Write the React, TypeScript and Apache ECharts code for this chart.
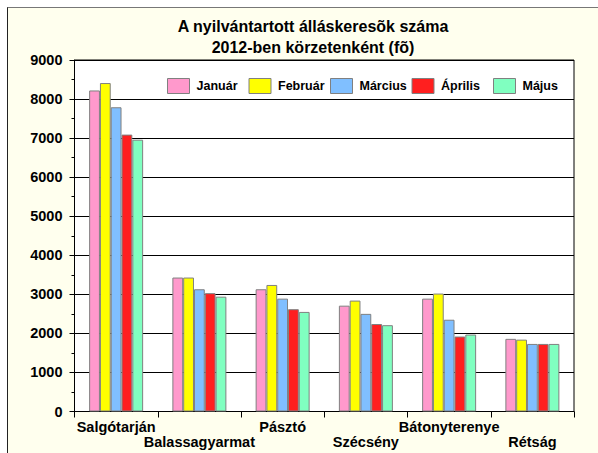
import React, { useEffect, useRef } from "react";
import * as echarts from "echarts";

const categories = ["Salgótarján", "Balassagyarmat", "Pásztó", "Szécsény", "Bátonyterenye", "Rétság"];
const seriesNames = ["Január", "Február", "Március", "Április", "Május"];
const januar = [8220, 3430, 3130, 2710, 2890, 1860];
const februar = [8410, 3430, 3240, 2840, 3020, 1840];
const marcius = [7790, 3130, 2890, 2500, 2350, 1730];
const aprilis = [7090, 3030, 2620, 2240, 1920, 1730];
const majus = [6960, 2940, 2550, 2210, 1970, 1730];
const colors = ["#FF99CC", "#FFFF00", "#80BFFF", "#FF1F1F", "#80FFC0"];
const titleLines = ["A nyilvántartott álláskeresõk száma", "2012-ben körzetenként (fõ)"];

const FONT = '"Liberation Sans", Arial, sans-serif';

export default function App() {
  const ref = useRef<HTMLDivElement>(null);
  useEffect(() => {
    if (!ref.current) return;
    const chart = echarts.init(ref.current, undefined, { renderer: "svg" });
    const values = [januar, februar, marcius, aprilis, majus];
    chart.setOption({
      animation: false,
      backgroundColor: "transparent",
      textStyle: { fontFamily: FONT },
      graphic: [
        {
          type: "text",
          x: 313,
          y: 26,
          style: {
            text: titleLines[0],
            font: `bold 16px ${FONT}`,
            fill: "#000",
            align: "center",
            verticalAlign: "middle",
          },
        },
        {
          type: "text",
          x: 313,
          y: 47,
          style: {
            text: titleLines[1],
            font: `bold 16px ${FONT}`,
            fill: "#000",
            align: "center",
            verticalAlign: "middle",
          },
        },
      ],
      legend: seriesNames.map((name, i) => ({
        left: 162 + 81.5 * i,
        top: 73,
        itemWidth: 22,
        itemHeight: 15,
        itemGap: 0,
        icon: "rect",
        itemStyle: { borderColor: "#808080", borderWidth: 1 },
        textStyle: {
          fontFamily: FONT,
          fontWeight: "bold",
          fontSize: 12.5,
          color: "#000",
          padding: [0, 0, 0, 2],
        },
        data: [name],
      })),
      grid: {
        left: 74.5,
        right: 24,
        top: 60,
        bottom: 41.5,
        show: true,
        backgroundColor: "#ffffff",
        borderColor: "#000",
        borderWidth: 1,
      },
      xAxis: {
        type: "category",
        data: categories,
        axisLine: { lineStyle: { color: "#000", width: 1 } },
        axisTick: { show: true, length: 6, lineStyle: { color: "#000" } },
        axisLabel: {
          interval: 0,
          margin: 8,
          color: "#000",
          fontFamily: FONT,
          fontWeight: "bold",
          fontSize: 14.5,
          lineHeight: 15,
          verticalAlign: "top",
          formatter: (v: string, i: number) => (i % 2 === 1 ? "\n" + v : v),
        },
      },
      yAxis: {
        type: "value",
        min: 0,
        max: 9000,
        interval: 1000,
        axisLine: { show: true, lineStyle: { color: "#000", width: 1 } },
        axisTick: { show: true, length: 5, lineStyle: { color: "#000" } },
        minorTick: { show: true, splitNumber: 2, length: 3, lineStyle: { color: "#000" } },
        splitLine: { show: true, lineStyle: { color: "#000", width: 1 } },
        axisLabel: {
          margin: 12,
          color: "#000",
          fontFamily: FONT,
          fontWeight: "bold",
          fontSize: 14.5,
          formatter: (v: number) => String(v),
        },
      },
      series: seriesNames.map((name, i) => ({
        name,
        type: "bar",
        data: values[i],
        barWidth: 10.8,
        barGap: "0%",
        itemStyle: { color: colors[i], borderColor: "#808080", borderWidth: 1 },
      })),
    });
    return () => chart.dispose();
  }, []);

  return (
    <div
      style={{
        position: "fixed",
        left: 0,
        top: 0,
        width: 598,
        height: 453,
        overflow: "hidden",
        background: "#ffffff",
      }}
    >
      <div
        style={{
          position: "absolute",
          left: 7,
          top: 7,
          width: 700,
          height: 700,
          borderTop: "1.5px solid #777",
          borderLeft: "1.5px solid #222",
          background: "#FFFFEE",
        }}
      />
      <div ref={ref} style={{ position: "absolute", left: 0, top: 0, width: 598, height: 453 }} />
    </div>
  );
}
